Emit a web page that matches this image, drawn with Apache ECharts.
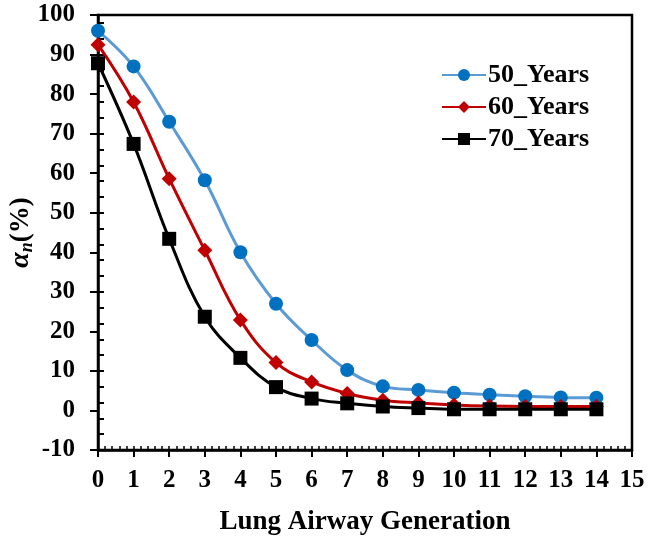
<!DOCTYPE html>
<html>
<head>
<meta charset="utf-8">
<script src="https://cdn.jsdelivr.net/npm/echarts@6/dist/echarts.min.js"></script>
<style>html,body{margin:0;padding:0;background:#fff}#c{width:657px;height:537px}</style>
</head>
<body>
<div id="c"></div>
<script>
const generations = [0,1,2,3,4,5,6,7,8,9,10,11,12,13,14];
const years50 = [96, 87, 73, 58.2, 40, 27, 17.8, 10.2, 6.1, 5.2, 4.5, 4.0, 3.6, 3.3, 3.2];
const years60 = [92.5, 78, 58.6, 40.5, 22.9, 12.1, 7.2, 4.3, 2.6, 1.9, 1.4, 1.1, 1.0, 1.0, 1.0];
const years70 = [87.8, 67.4, 43.4, 23.7, 13.3, 5.9, 3.0, 1.8, 1.0, 0.6, 0.3, 0.3, 0.3, 0.3, 0.3];
const seriesNames = ['50_Years', '60_Years', '70_Years'];

const font = 'Liberation Serif';
const pair = arr => generations.map((g, i) => [g, arr[i]]);

const chart = echarts.init(document.getElementById('c'));
chart.setOption({
  animation: false,
  backgroundColor: '#fff',
  grid: { left: 98, right: 25, top: 15, bottom: 87, containLabel: false, outerBoundsMode: 'none', show: true, borderColor: '#000', borderWidth: 2.5, backgroundColor: 'transparent' },
  legend: {
    orient: 'vertical', left: 436, top: 56, itemWidth: 44, itemHeight: 15, itemGap: 4,
    textStyle: { fontFamily: font, fontWeight: 'bold', fontSize: 26, lineHeight: 28, color: '#000', padding: [0, 0, 0, -3] },
    data: seriesNames
  },
  xAxis: [{
    type: 'value', min: 0, max: 15, interval: 1,
    name: 'Lung Airway Generation', nameLocation: 'middle', nameGap: 59,
    nameTextStyle: { fontFamily: font, fontWeight: 'bold', fontSize: 27, color: '#000' },
    axisLine: { show: true, onZero: false, lineStyle: { color: '#000', width: 2.5 } },
    axisTick: { show: true, inside: false, length: 7, lineStyle: { color: '#000', width: 2 } },
    axisLabel: { fontFamily: font, fontWeight: 'bold', fontSize: 25, color: '#000', margin: 18 },
    splitLine: { show: false }
  }, {
    type: 'value', min: 0, max: 15, interval: 0.2, position: 'bottom',
    axisLine: { show: false, onZero: false },
    axisTick: { show: true, inside: true, length: 4, lineStyle: { color: '#000', width: 1.5 } },
    axisLabel: { show: false }, splitLine: { show: false }
  }],
  yAxis: [{
    type: 'value', min: -10, max: 100, interval: 10,
    name: '{a|α}{s|n}{b|(%)}', nameLocation: 'middle', nameGap: 62, nameRotate: 90, nameMoveOverlap: false,
    nameTextStyle: {
      rich: {
        a: { fontFamily: font, fontWeight: 'bold', fontStyle: 'italic', fontSize: 28, color: '#000' },
        s: { fontFamily: font, fontWeight: 'bold', fontStyle: 'italic', fontSize: 18, color: '#000', verticalAlign: 'bottom', padding: [12, 0, 0, 0] },
        b: { fontFamily: font, fontWeight: 'bold', fontSize: 27, color: '#000' }
      }
    },
    axisLine: { show: true, onZero: false, lineStyle: { color: '#000', width: 2.5 } },
    axisTick: { show: true, inside: false, length: 8, lineStyle: { color: '#000', width: 2 } },
    axisLabel: { fontFamily: font, fontWeight: 'bold', fontSize: 25, color: '#000', margin: 23 },
    splitLine: { show: false }
  }, {
    type: 'value', min: -10, max: 100, interval: 4, position: 'left',
    axisLine: { show: false, onZero: false },
    axisTick: { show: true, inside: true, length: 6, lineStyle: { color: '#000', width: 2 } },
    axisLabel: { show: false }, splitLine: { show: false }
  }],
  series: [{
    name: seriesNames[0], type: 'line', smooth: 0.4, data: pair(years50),
    symbol: 'circle', symbolSize: 14,
    lineStyle: { color: '#5B9BD5', width: 3 },
    itemStyle: { color: '#0070C0' }
  }, {
    name: seriesNames[1], type: 'line', smooth: 0.4, data: pair(years60),
    symbol: 'diamond', symbolSize: 15,
    lineStyle: { color: '#C00000', width: 3 },
    itemStyle: { color: '#C00000' }
  }, {
    name: seriesNames[2], type: 'line', smooth: 0.4, data: pair(years70),
    symbol: 'rect', symbolSize: 14,
    lineStyle: { color: '#000000', width: 3 },
    itemStyle: { color: '#000000' }
  }]
});
</script>
</body>
</html>
